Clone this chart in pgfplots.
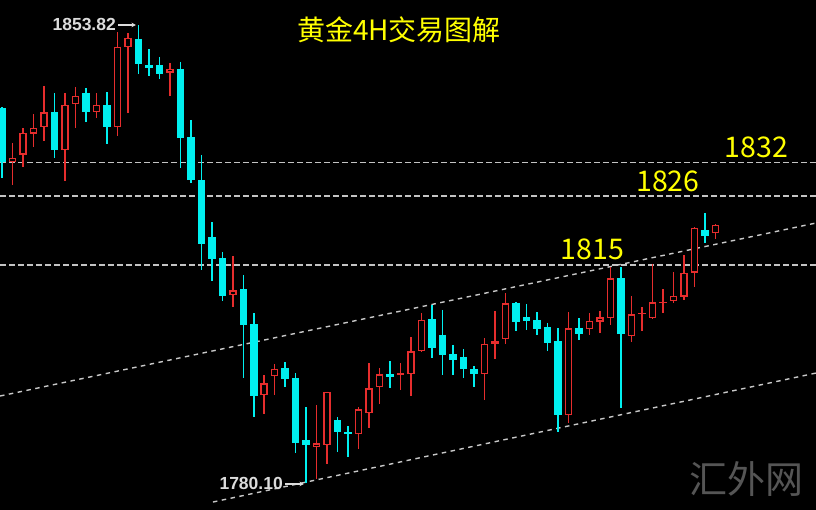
\documentclass[border=0pt]{standalone}
\usepackage{fontspec}
\setmainfont{Liberation Sans}
\newfontfamily\cjk{Noto Sans CJK SC}
\usepackage{pgfplots}
\usepackage{pgfplotstable}
\usetikzlibrary{arrows.meta}
\pgfplotsset{compat=1.18}
\definecolor{upred}{RGB}{230,45,45}
\definecolor{dncyan}{RGB}{0,240,240}
\definecolor{lvl}{RGB}{195,195,195}
\definecolor{trend}{RGB}{200,200,200}
\definecolor{lbl}{RGB}{220,220,220}
\definecolor{wm}{RGB}{85,85,85}
\definecolor{ylw}{RGB}{255,255,0}

% up candles (red, hollow): index open high low close
\pgfplotstableread{
i O H L C
1 1831.78 1834.84 1828.08 1832.43
2 1832.91 1837.25 1830.98 1836.45
3 1836.29 1839.50 1834.20 1837.25
4 1837.41 1844.01 1835.16 1839.82
6 1833.71 1842.88 1828.73 1840.95
7 1841.11 1843.85 1837.25 1842.40
9 1839.82 1842.88 1838.86 1840.95
11 1837.41 1852.69 1835.96 1850.28
12 1850.28 1852.53 1839.66 1851.73
16 1846.10 1847.71 1842.40 1846.74
22 1810.39 1816.66 1808.46 1811.19
25 1794.30 1797.52 1791.25 1796.23
26 1797.36 1799.29 1794.30 1798.49
30 1785.94 1792.70 1780.79 1786.58
31 1786.26 1794.85 1783.21 1794.79
34 1788.03 1792.37 1785.62 1792.05
35 1791.41 1799.45 1789.00 1795.43
36 1795.59 1798.65 1792.86 1797.68
38 1797.57 1799.45 1795.11 1797.79
39 1797.68 1803.63 1794.14 1801.38
40 1801.38 1807.49 1801.22 1806.37
46 1797.68 1803.47 1793.50 1802.51
47 1802.51 1807.82 1800.10 1802.99
48 1803.31 1810.71 1802.51 1809.10
54 1791.09 1807.65 1789.80 1805.08
56 1804.92 1807.49 1803.96 1806.21
57 1806.05 1807.82 1804.28 1806.85
58 1806.69 1814.89 1805.56 1813.12
60 1803.79 1810.23 1802.83 1807.33
61 1807.33 1808.46 1804.60 1807.49
62 1806.69 1815.38 1806.60 1809.26
63 1809.10 1811.35 1807.49 1809.26
64 1809.42 1814.09 1809.10 1810.23
65 1810.07 1816.82 1809.58 1813.93
66 1813.93 1821.30 1811.68 1821.17
68 1820.36 1821.75 1819.40 1821.65
}\upc

% down candles (cyan, filled)
\pgfplotstableread{
i O H L C
0 1840.47 1840.60 1829.21 1831.78
5 1839.82 1842.88 1832.43 1833.71
8 1842.88 1843.69 1838.22 1839.82
10 1840.95 1843.04 1834.68 1837.41
13 1851.57 1853.82 1845.94 1847.55
14 1847.38 1849.96 1845.62 1846.90
15 1847.38 1848.67 1845.13 1845.94
17 1846.74 1847.87 1830.82 1835.64
18 1835.80 1838.54 1828.40 1828.89
19 1828.89 1832.91 1814.41 1818.59
20 1819.72 1822.13 1812.64 1816.18
21 1816.34 1817.31 1809.42 1810.23
23 1811.35 1813.61 1797.04 1805.56
24 1805.72 1807.49 1790.77 1794.14
27 1798.65 1799.61 1795.59 1796.88
28 1797.04 1797.84 1784.97 1786.58
29 1787.07 1792.37 1780.10 1786.26
32 1790.28 1790.77 1785.14 1788.35
33 1788.35 1789.32 1784.33 1788.11
37 1797.68 1799.77 1795.43 1797.20
41 1806.53 1808.78 1800.26 1801.86
42 1803.96 1807.98 1797.52 1800.74
43 1800.90 1802.35 1797.52 1799.93
44 1800.42 1801.70 1797.04 1798.49
45 1798.49 1798.97 1795.59 1797.68
49 1809.10 1809.20 1804.60 1806.05
50 1806.85 1808.94 1804.76 1806.21
51 1806.37 1807.65 1803.96 1804.92
52 1805.24 1805.89 1801.38 1802.67
53 1802.99 1805.08 1788.35 1791.09
55 1805.08 1806.69 1803.15 1804.12
59 1813.12 1814.89 1792.21 1804.12
67 1820.84 1823.58 1818.75 1819.88
}\dnc

\pgfplotsset{
  candlebar/.style 2 args={draw=none, mark=none, forget plot,
    error bars/.cd, y dir=minus, y explicit, error mark=none,
    error bar style={solid, line width=#2, draw=#1}},
}

\begin{document}
\begin{tikzpicture}
\path[use as bounding box, fill=black] (0,0) rectangle (816pt,510pt);
\begin{axis}[
  at={(0,0)}, anchor=south west,
  width=816pt, height=510pt, scale only axis,
  xmin=-0.19, xmax=77.6, ymin=1775.81, ymax=1857.84,
  axis lines=none, ticks=none,
]
% level lines
\addplot[lvl, line width=1.5pt, dash pattern=on 5.5pt off 3.5pt, forget plot] coordinates {(-0.19,1831.67) (77.6,1831.67)};
\addplot[lvl, line width=1.5pt, dash pattern=on 5.5pt off 3.5pt, forget plot] coordinates {(-0.19,1826.31) (77.6,1826.31)};
\addplot[lvl, line width=1.5pt, dash pattern=on 5.5pt off 3.5pt, forget plot] coordinates {(-0.19,1815.21) (77.6,1815.21)};
% channel
\addplot[trend, line width=1.4pt, dash pattern=on 4.5pt off 4.5pt, forget plot] coordinates {(-0.19,1794.14) (77.6,1821.97)};
\addplot[trend, line width=1.4pt, dash pattern=on 4.5pt off 4.5pt, forget plot] coordinates {(20.11,1777.09) (77.6,1797.84)};

% down candles
\addplot[candlebar={dncyan}{1.5pt}] table[x=i, y=H, y error minus expr={\thisrow{H}-\thisrow{L}}] {\dnc};
\addplot[candlebar={dncyan}{7.5pt}] table[x=i, y expr={max(\thisrow{O},\thisrow{C})}, y error minus expr={abs(\thisrow{O}-\thisrow{C})}] {\dnc};
% up candles
\addplot[candlebar={upred}{1.5pt}] table[x=i, y=H, y error minus expr={\thisrow{H}-\thisrow{L}}] {\upc};
\addplot[candlebar={upred}{7.5pt}] table[x=i, y expr={max(\thisrow{O},\thisrow{C})}, y error minus expr={abs(\thisrow{O}-\thisrow{C})}] {\upc};
\addplot[candlebar={black}{4.5pt}] table[x=i, y expr={max(\thisrow{O},\thisrow{C})-0.24}, y error minus expr={max(abs(\thisrow{O}-\thisrow{C})-0.48,0)}] {\upc};

% annotations
\node[text=ylw, font=\cjk\fontsize{28}{30}\selectfont, inner sep=0pt] at (rel axis cs:0.489,0.941) {黄金4H交易图解};
\node[text=ylw, font=\cjk\fontsize{28.5}{30}\selectfont, inner sep=0pt] at (rel axis cs:0.927,0.712) {1832};
\node[text=ylw, font=\cjk\fontsize{28.5}{30}\selectfont, inner sep=0pt] at (rel axis cs:0.8186,0.645) {1826};
\node[text=ylw, font=\cjk\fontsize{28.5}{30}\selectfont, inner sep=0pt] at (rel axis cs:0.7261,0.5118) {1815};
\node[text=lbl, font=\bfseries\fontsize{17.5}{18}\selectfont, inner sep=0pt, anchor=east] at (rel axis cs:0.1422,0.951) {1853.82};
\draw[lbl, line width=1.2pt, -{Stealth[length=4.5pt,width=4.5pt]}] (rel axis cs:0.1446,0.951) -- (rel axis cs:0.1666,0.951);
\node[text=lbl, font=\bfseries\fontsize{17.5}{18}\selectfont, inner sep=0pt, anchor=east] at (rel axis cs:0.3468,0.052) {1780.10};
\draw[lbl, line width=1.2pt, -{Stealth[length=4.5pt,width=4.5pt]}] (rel axis cs:0.3495,0.051) -- (rel axis cs:0.3725,0.051);
\node[text=wm, font=\cjk\fontsize{38}{40}\selectfont, inner sep=0pt] at (rel axis cs:0.9148,0.0608) {汇外网};
\end{axis}
\end{tikzpicture}
\end{document}
